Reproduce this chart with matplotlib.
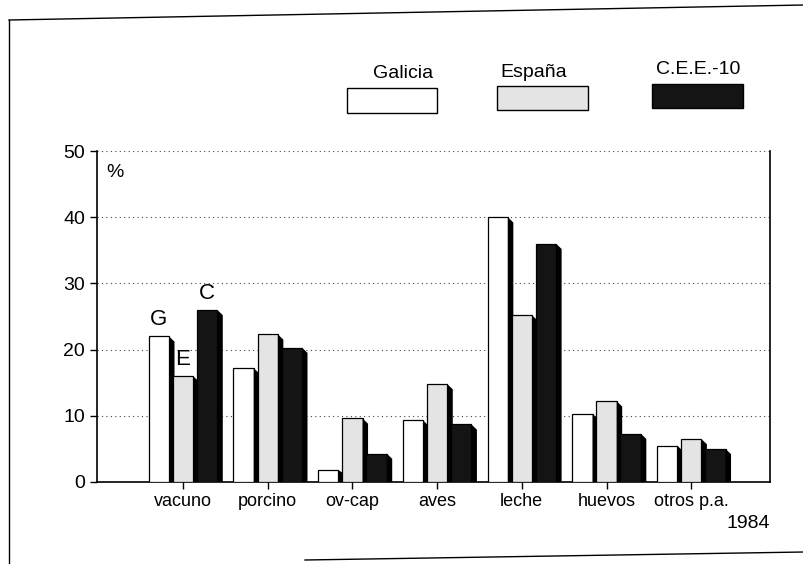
import numpy as np
import matplotlib.pyplot as plt
from matplotlib.patches import Rectangle
from matplotlib.lines import Line2D

plt.rcParams['font.family'] = ['Liberation Sans Narrow', 'Liberation Sans', 'DejaVu Sans']

# data (% of final agrarian production, 1984)
categorias = ['vacuno', 'porcino', 'ov-cap', 'aves', 'leche', 'huevos', 'otros p.a.']
galicia = [22.0, 17.2, 1.8, 9.3, 40.0, 10.3, 5.5]
espana = [16.0, 22.3, 9.6, 14.8, 25.2, 12.2, 6.5]
cee10 = [26.0, 20.3, 4.3, 8.7, 36.0, 7.3, 5.0]
series_names = ['Galicia', 'España', 'C.E.E.-10']
yticks = [0, 10, 20, 30, 40, 50]

colors = ['white', '#e4e4e4', '#141414']
W, H = 804, 564
fig = plt.figure(figsize=(W / 100, H / 100), dpi=100)

def fx(px):
    return px / W

def fy(py):
    return 1 - py / H

ax = fig.add_axes([fx(97), fy(482), fx(770) - fx(97), fy(151) - fy(482)])

x = np.arange(len(categorias))
w = 0.24
offs = [-0.285, 0.0, 0.285]
dx, dy = 0.065, 0.8

for vals, off, col in zip([galicia, espana, cee10], offs, colors):
    for xi, v in zip(x, vals):
        left = xi + off - w / 2
        ax.bar(xi + off, v, width=w, color=col, edgecolor='black', linewidth=0.9, zorder=3)
        r = left + w
        ax.fill([r, r, r + dx, r + dx], [0, v, v - min(dy, v * 0.3), 0],
                color='black', zorder=3, linewidth=0)

# G / E / C letters over the first group
for lab, off, v in zip(['G', 'E', 'C'], offs, [galicia[0], espana[0], cee10[0]]):
    ax.text(off, v + 0.9, lab, ha='center', va='bottom', fontsize=16, zorder=4)

ax.text(-0.80, 46.8, '%', ha='center', va='center', fontsize=14)

ax.set_xlim(-1.015, 6.93)
ax.set_ylim(0, 50)
ax.set_yticks(yticks)
ax.set_xticks(x)
ax.set_xticklabels(categorias, fontsize=13)
ax.tick_params(axis='both', direction='out', length=5, width=1, labelsize=14, colors='black')
ax.tick_params(axis='x', pad=3, labelsize=13)
ax.yaxis.grid(True, linestyle=(0, (1, 3)), color='#444444', linewidth=0.8)
ax.set_axisbelow(True)
for s in ['left', 'right', 'bottom']:
    ax.spines[s].set_linewidth(1.2)
    ax.spines[s].set_color('black')
ax.spines['top'].set_visible(False)

# legend boxes above the plot
leg_boxes = [(347, 88, 90, 25), (497, 86, 91, 24), (652, 84, 91, 24)]
leg_text = [(403, 74), (534, 73), (698, 70)]
for name, col, (bx, by, bw, bh), (tx, ty) in zip(series_names, colors, leg_boxes, leg_text):
    fig.patches.append(Rectangle((fx(bx), fy(by + bh)), fx(bw), bh / H, transform=fig.transFigure,
                                 facecolor=col, edgecolor='black', linewidth=1.0))
    fig.text(fx(tx), fy(ty), name, ha='center', va='center', fontsize=14)

fig.text(fx(770), fy(524), '1984', ha='right', va='center', fontsize=14)

# page frame lines from the scanned page
fig.add_artist(Line2D([fx(9), fx(804)], [fy(20), fy(5)], color='black', linewidth=1.0))
fig.add_artist(Line2D([fx(9), fx(9)], [fy(20), fy(564)], color='black', linewidth=1.0))
fig.add_artist(Line2D([fx(305), fx(804)], [fy(560), fy(552)], color='black', linewidth=1.0))

fig.savefig('out.png', dpi=100)
